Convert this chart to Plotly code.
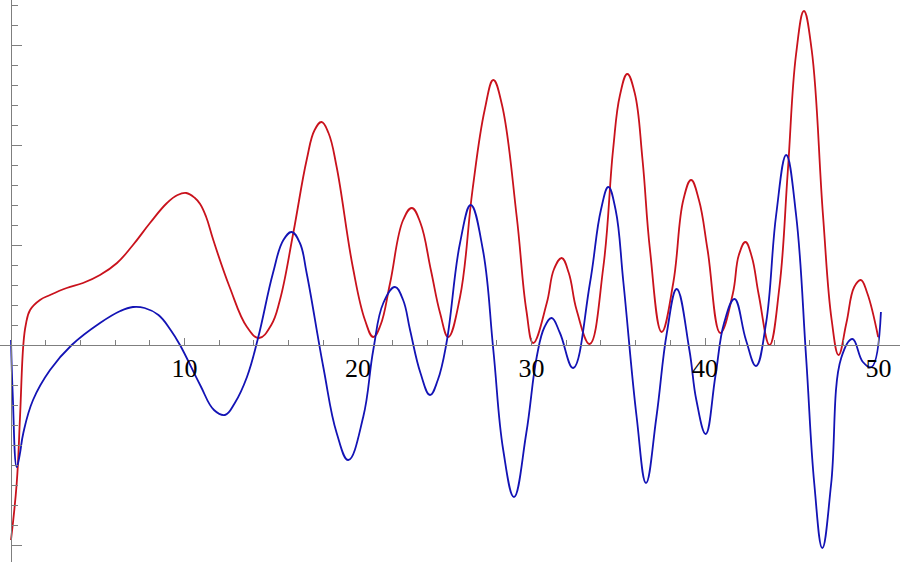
import plotly.graph_objects as go

red_x = [0.0, 0.33, 0.52, 0.71, 0.85, 1.1, 1.67, 2.25, 3.21, 4.15, 5.13, 6.11, 7.03, 8.01, 8.99, 9.6, 10.1,
         10.6, 10.9, 11.25, 11.66, 12.6, 13.6, 14.3, 15.0, 15.5, 16.27, 17.04, 17.5, 17.9, 18.3, 18.77, 19.7, 20.4,
         20.88, 21.3, 21.85, 22.6, 23.1, 23.6, 24.2, 24.73, 25.2, 25.88, 26.6, 27.3, 27.8, 28.3, 29.15, 29.7,
         30.1, 30.88, 31.3, 31.74, 32.15, 32.6, 33.35, 34.14, 34.7, 35.1, 35.52, 35.95, 36.4, 36.83, 37.5, 38.17,
         38.75, 39.2, 39.65, 40.15, 40.88, 41.6, 41.95, 42.33, 42.7, 43.1, 43.72, 44.29, 44.77, 45.25, 45.7, 46.15,
         46.8, 47.3, 47.7, 48.15, 48.6, 48.98, 49.35, 49.98]
red_y = [-1.95, -1.38, -0.72, 0.0, 0.2, 0.35, 0.45, 0.50, 0.57, 0.62, 0.70, 0.82, 1.00, 1.22, 1.42, 1.50, 1.52,
         1.47, 1.41, 1.28, 1.05, 0.58, 0.18, 0.07, 0.2, 0.45, 1.12, 1.85, 2.15, 2.23, 2.12, 1.78, 0.78, 0.25,
         0.08, 0.2, 0.62, 1.25, 1.37, 1.22, 0.75, 0.32, 0.08, 0.48, 1.55, 2.35, 2.65, 2.4, 1.28, 0.35,
         0.02, 0.42, 0.76, 0.87, 0.72, 0.35, 0.01, 0.78, 1.95, 2.5, 2.71, 2.52, 1.85, 0.95, 0.13, 0.62,
         1.45, 1.65, 1.45, 0.95, 0.12, 0.51, 0.9, 1.03, 0.88, 0.5, 0.0, 0.58, 1.73, 2.91, 3.34, 2.95,
         1.30, 0.25, -0.10, 0.22, 0.58, 0.65, 0.52, 0.08]

blue_x = [0.0, 0.1, 0.33, 0.5, 0.71, 1.27, 2.25, 3.5, 5.13, 6.3, 7.03, 7.7, 8.5, 9.2, 9.74, 10.9, 11.7, 12.33,
          12.9, 13.6, 14.24, 15.1, 15.7, 16.18, 16.65, 17.04, 18.0, 18.77, 19.44, 20.3, 20.88, 21.46, 22.13,
          22.6, 23.0, 23.6, 24.15, 24.6, 25.1, 25.88, 26.5, 27.2, 27.8, 28.37, 28.99, 29.7, 30.3, 30.75, 31.16,
          31.64, 32.4, 33.37, 34.0, 34.43, 34.85, 35.3, 36.06, 36.6, 37.2, 37.8, 38.37, 39.1, 39.5, 40.04, 40.6,
          41.1, 41.7, 42.36, 42.94, 43.52, 44.1, 44.68, 45.25, 45.83, 46.3, 46.76, 47.27, 47.85, 48.5, 49.1,
          49.6, 50.14]
blue_y = [0.05, -0.5, -1.22, -1.1, -0.88, -0.55, -0.25, 0.0, 0.22, 0.34, 0.38, 0.37, 0.3, 0.15, 0.0, -0.40,
          -0.65, -0.70, -0.58, -0.32, 0.07, 0.72, 1.05, 1.13, 1.02, 0.72, -0.22, -0.88, -1.15, -0.72, -0.05,
          0.42, 0.58, 0.45, 0.15, -0.28, -0.50, -0.35, 0.02, 1.02, 1.40, 0.95, -0.05, -1.05, -1.52, -0.88,
          -0.12, 0.18, 0.27, 0.12, -0.23, 0.62, 1.35, 1.58, 1.35, 0.62, -0.72, -1.38, -0.72, 0.12, 0.56, -0.05,
          -0.55, -0.89, -0.31, 0.22, 0.46, 0.05, -0.21, 0.22, 1.30, 1.90, 1.30, -0.13, -1.39, -2.03, -1.39,
          -0.13, 0.06, -0.17, -0.22, 0.33]

x_tick_vals = [10, 20, 30, 40, 50]
x_tick_text = ["10", "20", "30", "40", "50"]

fig = go.Figure()
fig.add_trace(go.Scatter(x=red_x, y=red_y, mode="lines", hoverinfo="skip",
                         line=dict(color="#c9121c", width=1.8, shape="spline", smoothing=1.2)))
fig.add_trace(go.Scatter(x=blue_x, y=blue_y, mode="lines", hoverinfo="skip",
                         line=dict(color="#1313b5", width=1.8, shape="spline", smoothing=1.2)))

x0, x1 = -11 / 17.35, (900 - 11) / 17.35
y0, y1 = -2.17, 3.45
fig.update_layout(
    width=900, height=562, margin=dict(l=0, r=0, t=0, b=0),
    paper_bgcolor="white", plot_bgcolor="white", showlegend=False,
    xaxis=dict(range=[x0, x1], showgrid=False, zeroline=False, showline=True, linecolor="#7f7f7f", linewidth=1,
               anchor="free", position=(0 - y0) / (y1 - y0),
               tickvals=x_tick_vals, ticktext=x_tick_text, ticks="inside", ticklen=7, tickcolor="#7f7f7f",
               minor=dict(dtick=2, tick0=0, ticks="inside", ticklen=5, tickcolor="#7f7f7f"),
               tickfont=dict(family="Liberation Serif", size=26, color="black")),
    yaxis=dict(range=[y0, y1], showgrid=False, zeroline=False, showline=True, linecolor="#7f7f7f", linewidth=1,
               anchor="free", position=(0 - x0) / (x1 - x0),
               dtick=1, tick0=0, ticks="inside", ticklen=10, tickcolor="#7f7f7f", showticklabels=False,
               minor=dict(dtick=0.2, tick0=0, ticks="inside", ticklen=6, tickcolor="#7f7f7f")),
)
fig.write_html("out.html", config={"displayModeBar": False},
               post_script="document.body.style.margin='0';")
